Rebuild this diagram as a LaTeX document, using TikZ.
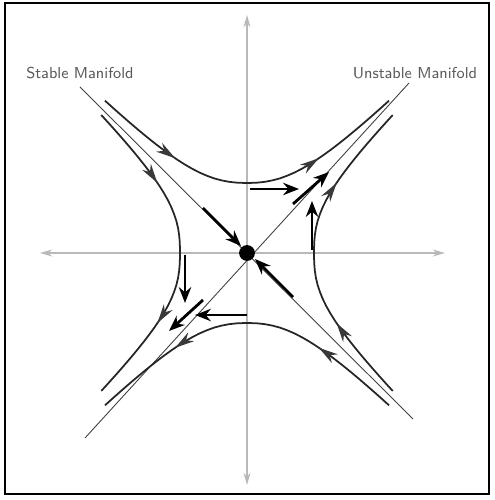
\documentclass[tikz,border=0pt]{standalone}
\usetikzlibrary{arrows.meta,decorations.markings}
\begin{document}
\begin{tikzpicture}[x=2cm,y=2cm,
  axisline/.style={draw=gray!55,line width=0.7pt},
  diagline/.style={draw=black!75,line width=0.5pt},
  orbit/.style={draw=black!85,line width=1pt,
    postaction={decorate,decoration={markings,
      mark=at position 0.27 with {\arrow[gray!45!black]{Stealth[length=11pt,width=6pt]}},
      mark=at position 0.73 with {\arrow[gray!45!black]{Stealth[length=11pt,width=6pt]}}}}},
  flowarrow/.style={draw=black,line width=1.6pt,-{Stealth[length=9pt,width=7pt]}},
  lbl/.style={font=\sffamily\small,text=gray!70!black,inner sep=1pt}]
\useasboundingbox (-2.47,-2.47) rectangle (2.47,2.53);
\draw[black,line width=1.2pt] (-2.42,2.50) rectangle (2.42,-2.41);
% axes
\coordinate (yb) at (0,-2.32); \coordinate (yt) at (0,2.38);
\coordinate (xl) at (-2.07,0); \coordinate (xr) at (1.98,0);
\draw[axisline,{Stealth[length=7pt,width=4pt]}-{Stealth[length=7pt,width=4pt]}] (yb) -- (yt);
\draw[axisline,{Stealth[length=7pt,width=4pt]}-{Stealth[length=7pt,width=4pt]}] (xl) -- (xr);
% manifolds
\coordinate (s1) at (-1.67,1.66); \coordinate (s2) at (1.66,-1.66);
\coordinate (u1) at (-1.62,-1.85); \coordinate (u2) at (1.62,1.70);
\draw[diagline] (s1) -- (s2);
\draw[diagline] (u1) -- (u2);
\node[lbl] (stab) at (-1.67,1.80) {Stable Manifold};
\node[lbl] (unst) at (1.68,1.80) {Unstable Manifold};
% orbits
\draw[orbit] plot[domain=-1.42:1.42,samples=40] (\x,{((\x*\x+0.0001)^1.2+0.4254)^(1/2.4)});
\draw[orbit] plot[domain=1.42:-1.42,samples=40] (\x,{-((\x*\x+0.0001)^1.2+0.4254)^(1/2.4)});
\draw[orbit] plot[domain=1.38:-1.38,samples=40] ({-((\x*\x+0.0001)^1.3+0.353)^(1/2.6)},\x);
\draw[orbit] plot[domain=-1.38:1.38,samples=40] ({((\x*\x+0.0001)^1.3+0.353)^(1/2.6)},\x);
% equilibrium
\node[circle,fill=black,inner sep=0pt,minimum size=9pt] (O) at (0,0) {};
% flow arrows
\coordinate (ta) at (0.03,0.64); \coordinate (tb) at (0.52,0.64);
\coordinate (ra) at (0.65,0.03); \coordinate (rb) at (0.65,0.52);
\coordinate (ba) at (0,-0.62); \coordinate (bb) at (-0.52,-0.62);
\coordinate (la) at (-0.62,-0.02); \coordinate (lb) at (-0.62,-0.50);
\draw[flowarrow] (ta) -- (tb);
\draw[flowarrow] (ra) -- (rb);
\draw[flowarrow] (ba) -- (bb);
\draw[flowarrow] (la) -- (lb);
\coordinate (d1a) at (-0.44,0.45); \coordinate (d1b) at (-0.06,0.07);
\coordinate (d2a) at (0.46,-0.44); \coordinate (d2b) at (0.08,-0.06);
\coordinate (d3a) at (0.46,0.49); \coordinate (d3b) at (0.82,0.81);
\coordinate (d4a) at (-0.44,-0.47); \coordinate (d4b) at (-0.78,-0.78);
\draw[flowarrow] (d1a) -- (d1b);
\draw[flowarrow] (d2a) -- (d2b);
\draw[flowarrow] (d3a) -- (d3b);
\draw[flowarrow] (d4a) -- (d4b);
\end{tikzpicture}
\end{document}
